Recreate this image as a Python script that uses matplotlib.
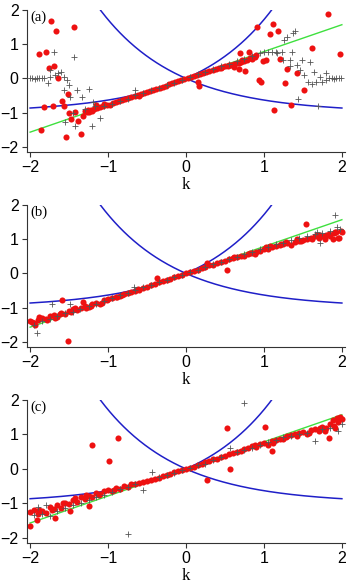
import numpy as np
import matplotlib
matplotlib.use("Agg")
import matplotlib.pyplot as plt

plt.rcParams['font.family'] = ['Liberation Sans', 'DejaVu Sans']

# ---- data ----
fit_slope = 0.785          # green line
panel_names = ["(a)", "(b)", "(c)"]

# panel (a)
a_red_k = [-1.88, -1.73, -1.79, -1.67, -1.44, -1.76, -1.69, -1.64, -1.82, -1.71, -1.86, -1.59, -1.56,
           -1.52, -1.50, -1.47, -1.54, -1.42, -1.39, -1.35, -1.32, -1.27, -1.25, -1.20, -1.15, -1.05, -0.60,
           -1.30, -1.26, -1.22, -1.18, -1.14, -1.10, -1.06, -1.02, -0.98, -0.94, -0.90, -0.86, -0.82, -0.78,
           -0.74, -0.70, -0.66, -0.62, -0.58, -0.54, -0.50, -0.46, -0.42, -0.38, -0.34, -0.30, -0.26, -0.22,
           -0.18, -0.14, -0.10, -0.06, -0.02, 0.02, 0.06, 0.10, 0.14, 0.18, 0.22, 0.26, 0.30, 0.34, 0.38,
           0.42, 0.46, 0.50, 0.54, 0.58, 0.62, 0.66, 0.70, 0.74, 0.78, 0.82, 0.86, 0.90,
           0.45, 0.55, 0.62, 0.68, 0.72, 0.85, 0.88,
           0.15, 0.17, 0.69, 0.76, 0.81, 0.91, 0.94, 0.96, 0.99, 1.02, 1.08, 1.11, 1.13, 1.18, 1.20, 1.27,
           1.30, 1.35, 1.42, 1.52, 1.62, 1.82, 1.98, 0.68]
a_red_y = [0.72, 1.69, 0.78, 1.40, 1.51, 0.30, 0.36, 0.02, -0.84, -0.82, -1.52, -0.65, -0.80,
           -0.46, -1.00, -1.19, -1.72, -0.97, -1.23, -1.63, -1.11, -0.97, -0.98, -0.95, -0.78, -0.74, -0.52,
           -0.95, -0.93, -0.92, -0.89, -0.85, -0.84, -0.80, -0.78, -0.77, -0.73, -0.70, -0.67, -0.64, -0.60,
           -0.57, -0.55, -0.51, -0.49, -0.45, -0.42, -0.40, -0.36, -0.33, -0.30, -0.27, -0.24, -0.21, -0.17,
           -0.14, -0.11, -0.08, -0.05, -0.02, 0.02, 0.05, 0.08, 0.11, 0.14, 0.17, 0.20, 0.22, 0.26, 0.29,
           0.31, 0.33, 0.35, 0.37, 0.40, 0.42, 0.45, 0.47, 0.52, 0.55, 0.60, 0.63, 0.68,
           0.30, 0.38, 0.34, 0.45, 0.55, 0.58, 0.62,
           -0.09, -0.22, 0.75, 0.23, 0.76, 1.51, -0.04, -0.09, 0.51, 0.54, 1.30, 1.59, -0.92, 1.39, 0.56, -0.12,
           0.28, -0.77, 0.15, -0.35, 0.90, 1.87, 0.70, 0.29]

a_gray_k = [-2.00, -1.97, -1.94, -1.91, -1.88, -1.85, -1.82,
            -1.70, -1.44, -1.75, -1.74, -1.77, -1.64, -1.57, -1.53, -1.50, -1.57, -1.40, -1.25, -1.49, -1.34,
            -1.19, -1.17, -1.10, -1.20, -1.42, -1.55, -1.45, -1.30, -1.60, -1.68, -0.65,
            -1.05, -0.95, -0.85, -0.75, -0.65, -0.55, -0.45, -0.35, -0.25, -0.15, -0.05, 0.05, 0.15, 0.25,
            0.35, 0.45, 0.55, 0.65, 0.75, 0.85, 0.95, 1.00, 1.05, 1.10, 1.15,
            1.17, 1.23, 1.26, 1.30, 1.37, 1.40, 1.25, 1.33, 1.36, 1.33, 1.42, 1.49, 1.59, 1.46, 1.52, 1.56,
            1.64, 1.72, 1.79, 1.67, 1.74, 1.44, 1.69, 1.84, 1.87, 1.90, 1.93, 1.96, 1.99, 1.62, 1.80]
a_gray_y = [0.00, 0.01, -0.01, 0.00, 0.02, 0.00, 0.01,
            0.78, 0.62, 0.25, 0.05, -0.12, 0.15, 0.05, -0.04, -0.19, -0.34, -0.34, -0.32, -0.53, -0.55,
            -0.68, -0.80, -1.16, -1.39, -1.39, -1.26, -1.00, -0.90, 0.20, 0.10, -0.35,
            -0.82, -0.76, -0.66, -0.60, -0.48, -0.44, -0.35, -0.28, -0.20, -0.12, -0.04, 0.04, 0.12, 0.20,
            0.28, 0.36, 0.42, 0.50, 0.58, 0.66, 0.74, 0.77, 0.78, 0.76, 0.77,
            0.73, 0.78, 1.12, 1.22, 1.32, 1.40, 0.54, 0.54, 0.78, 0.35, 0.39, 0.54, 0.49, 0.25, 0.10, -0.09,
            0.20, 0.05, 0.15, -0.09, -0.09, -0.61, -0.82, 0.00, 0.01, -0.01, 0.00, 0.01, 0.00, -0.15, -0.05]

# panel (b)
b_red_k = [-2.00, -1.95, -1.90, -1.85, -1.80, -1.75, -1.70, -1.65, -1.60, -1.55, -1.50, -1.45, -1.40,
           -1.35, -1.30, -1.25, -1.20, -1.15, -1.10, -1.05, -1.00, -0.95, -0.90, -0.85, -0.80, -0.75,
           -0.70, -0.65, -0.60, -0.55, -0.50, -0.45, -0.40, -0.35, -0.30, -0.25, -0.20, -0.15, -0.10,
           -0.05, 0.00, 0.05, 0.10, 0.15, 0.20, 0.25, 0.30, 0.35, 0.40, 0.45, 0.50, 0.55, 0.60, 0.65,
           0.70, 0.75, 0.80, 0.85, 0.90, 0.95, 1.00, 1.05, 1.10, 1.15, 1.20, 1.25, 1.30, 1.35, 1.40,
           1.45, 1.50, 1.55, 1.60, 1.65, 1.70, 1.75, 1.80, 1.85, 1.90, 1.95, 2.00,
           -1.59, -1.52, -1.32, -0.37, 0.27, 0.52, 1.54, 1.99, 1.91, 1.96, 1.88, 1.83, -1.94, -1.98,
           -1.78, -1.62, -1.42, -1.22, -1.02, -0.82, -0.62, 0.62, 0.82, 1.02, 1.22, 1.42, 1.62, 1.72,
           -1.88, -1.68, -1.48, -1.28, -1.08, -0.88, 0.88, 1.08, 1.28, 1.48, 1.68, 1.78, 1.93]
b_red_y = [-1.40, -1.45, -1.35, -1.30, -1.32, -1.25, -1.22, -1.26, -1.15, -1.18, -1.10, -1.05, -1.08,
           -1.00, -0.95, -0.97, -0.90, -0.86, -0.88, -0.79, -0.74, -0.72, -0.68, -0.65, -0.60, -0.58,
           -0.53, -0.50, -0.47, -0.42, -0.39, -0.35, -0.30, -0.26, -0.23, -0.19, -0.15, -0.11, -0.07,
           -0.04, 0.00, 0.04, 0.07, 0.11, 0.15, 0.19, 0.24, 0.26, 0.30, 0.33, 0.37, 0.42, 0.45, 0.47,
           0.50, 0.52, 0.56, 0.60, 0.64, 0.66, 0.70, 0.72, 0.77, 0.80, 0.82, 0.86, 0.88, 0.83, 0.93,
           0.95, 0.98, 1.02, 1.05, 1.08, 1.05, 1.10, 1.12, 1.08, 1.18, 1.05, 1.22,
           -0.78, -1.97, -0.83, -0.12, 0.31, 0.10, 1.44, 1.23, 1.22, 1.05, 1.00, 1.15, -1.51, -1.41,
           -1.36, -1.20, -1.02, -0.94, -0.78, -0.63, -0.46, 0.48, 0.60, 0.76, 0.86, 1.00, 1.00, 1.12,
           -1.28, -1.30, -1.14, -1.02, -0.85, -0.70, 0.58, 0.80, 0.92, 0.96, 1.12, 1.02, 1.20]

b_gray_k = [-1.95, -1.91, -1.85, -1.75, -1.72, -1.65, -1.55, -1.49, -1.45, -1.36, -1.25, -1.15, -1.05,
            -0.95, -0.85, -0.75, -0.67, -0.65, -0.55, -0.45, -0.35, -0.25, -0.15, -0.05, 0.05, 0.15,
            0.25, 0.35, 0.45, 0.55, 0.65, 0.75, 0.85, 0.95, 1.05, 1.15, 1.25, 1.35, 1.45, 1.55, 1.65,
            1.68, 1.72, 1.75, 1.85, 1.91, 1.94, 1.98]
b_gray_y = [-1.50, -1.74, -1.40, -1.32, -0.88, -1.25, -1.15, -0.88, -1.12, -1.03, -0.95, -0.88, -0.80,
            -0.72, -0.64, -0.56, -0.39, -0.49, -0.41, -0.33, -0.26, -0.19, -0.11, -0.04, 0.04, 0.11,
            0.19, 0.27, 0.34, 0.42, 0.49, 0.57, 0.64, 0.70, 0.78, 0.85, 0.90, 0.98, 1.05, 1.10, 1.15,
            1.22, 0.88, 1.18, 1.25, 1.71, 1.37, 1.30]

# panel (c)
c_red_k = [-2.00, -1.95, -1.90, -1.85, -1.80, -1.75, -1.70, -1.65, -1.60, -1.55, -1.50, -1.45, -1.40,
           -1.35, -1.30, -1.25, -1.20, -1.15, -1.10, -1.05, -1.00, -0.95, -0.90, -0.85, -0.80, -0.75,
           -0.70, -0.65, -0.60, -0.55, -0.50, -0.45, -0.40, -0.35, -0.30, -0.25, -0.20, -0.15, -0.10,
           -0.05, 0.00, 0.05, 0.10, 0.15, 0.20, 0.25, 0.30, 0.35, 0.40, 0.45, 0.50, 0.55, 0.60, 0.65,
           0.70, 0.75, 0.80, 0.85, 0.90, 0.95, 1.00, 1.05, 1.10, 1.15, 1.20, 1.25, 1.30, 1.35, 1.40,
           1.45, 1.50, 1.55, 1.60, 1.65, 1.70, 1.75, 1.80, 1.85, 1.90, 1.95, 2.00,
           -2.00, -1.91, -1.68, -1.49, -1.21, -0.99, -0.87, -1.25, 0.52, 0.57, 0.27, 1.01, 1.98, 1.94,
           1.83, 1.91, 1.10, 1.89,
           -1.88, -1.72, -1.58, -1.42, -1.28, -1.12, -0.92, 0.88, 1.12, 1.28, 1.42, 1.58, 1.72, 1.78]
c_red_y = [-1.25, -1.20, -1.30, -1.22, -1.28, -1.10, -1.15, -1.05, -1.12, -0.98, -1.02, -0.90, -0.95,
           -0.82, -0.88, -0.78, -0.82, -0.70, -0.72, -0.65, -0.60, -0.64, -0.55, -0.58, -0.50, -0.52,
           -0.45, -0.44, -0.42, -0.38, -0.36, -0.31, -0.28, -0.25, -0.22, -0.18, -0.14, -0.10, -0.07,
           -0.03, 0.00, 0.04, 0.07, 0.12, 0.14, 0.20, 0.22, 0.28, 0.30, 0.36, 0.38, 0.44, 0.45, 0.50,
           0.52, 0.58, 0.60, 0.66, 0.64, 0.72, 0.75, 0.70, 0.82, 0.85, 0.88, 0.86, 0.95, 0.98, 1.00,
           1.05, 1.08, 1.02, 1.12, 1.15, 1.10, 1.22, 1.18, 1.30, 1.25, 1.35, 1.45,
           -1.66, -1.47, -1.42, -1.21, 0.70, 0.24, 0.91, -1.08, 1.20, 0.00, -0.31, 1.23, 1.52, 1.47,
           0.89, 1.18, 0.51, 1.42,
           -1.18, -1.20, -1.00, -0.85, -0.75, -0.76, -0.60, 0.70, 0.74, 0.92, 0.95, 1.05, 1.18, 1.10]

c_gray_k = [-1.95, -1.90, -1.85, -1.80, -1.75, -1.65, -1.55, -1.45, -1.35, -1.25, -1.15, -1.05, -0.95,
            -0.85, -0.75, -0.65, -0.55, -0.44, -0.35, -0.25, -0.15, -0.05, 0.05, 0.15, 0.25, 0.35,
            0.45, 0.57, 0.65, 0.75, 0.85, 0.95, 1.05, 1.15, 1.25, 1.35, 1.45, 1.55, 1.66, 1.75, 1.85,
            1.95, 2.00, 0.74, -0.74]
c_gray_y = [-1.35, -1.10, -1.30, -1.05, -1.38, -1.22, -1.12, -1.05, -0.98, -0.90, -0.82, -0.75, -0.66,
            -0.58, -0.52, -0.45, -0.62, -0.09, -0.24, -0.18, -0.11, -0.04, 0.04, 0.10, 0.15, 0.25,
            0.35, 0.60, 0.48, 0.55, 0.62, 0.68, 0.78, 0.85, 0.92, 0.96, 1.02, 1.05, 0.81, 1.15, 1.20,
            1.10, 1.30, 1.90, -1.90]

red_k = [a_red_k, b_red_k, c_red_k]
red_y = [a_red_y, b_red_y, c_red_y]
gray_k = [a_gray_k, b_gray_k, c_gray_k]
gray_y = [a_gray_y, b_gray_y, c_gray_y]

# ---- figure ----
W, H = 350, 588
fig = plt.figure(figsize=(W / 100, H / 100), dpi=100)
# (left, top spine, bottom spine) in pixels
boxes = [(27, 10, 152), (27, 205, 347), (27, 400, 543)]

ks = np.linspace(-2, 2, 400)

for i, (l, t, b) in enumerate(boxes):
    ax = fig.add_axes([l / W, (H - b) / H, 318 / W, (b - t) / H])
    ax.plot(ks, np.exp(ks) - 1, color='#1f1fc8', lw=1.1, zorder=1)
    ax.plot(ks, np.exp(-ks) - 1, color='#1f1fc8', lw=1.1, zorder=1)
    ax.plot(ks, fit_slope * ks, color='#3ee03e', lw=1.0, zorder=1)
    ax.plot(red_k[i], red_y[i], 'o', color='#ee1111', ms=4.4, mec='none', zorder=2)
    ax.plot(gray_k[i], gray_y[i], '+', color='#555555', ms=5, mew=0.6, zorder=3)

    ax.set_xlim(-2.04, 2.04)
    ax.set_ylim(-2.15, 2.0)
    ax.set_xticks([-2, -1, 0, 1, 2])
    ax.set_yticks([-2, -1, 0, 1, 2])
    ax.set_xticklabels(['\u22122', '\u22121', '0', '1', '2'])
    ax.set_yticklabels(['\u22122', '\u22121', '0', '1', '2'])
    for s in ['top', 'right']:
        ax.spines[s].set_visible(False)
    for s in ['left', 'bottom']:
        ax.spines[s].set_color('#333333')
        ax.spines[s].set_linewidth(0.8)
    ax.tick_params(direction='out', length=3.6, width=0.8, color='#333333', labelsize=11.5, pad=2.5)
    ax.set_xlabel('k', family='Liberation Serif', fontsize=12, labelpad=1)
    ax.text(-2.0, 1.98, panel_names[i], family='Liberation Serif', fontsize=10.5, va='top', ha='left')

fig.savefig('out.png', dpi=100)
